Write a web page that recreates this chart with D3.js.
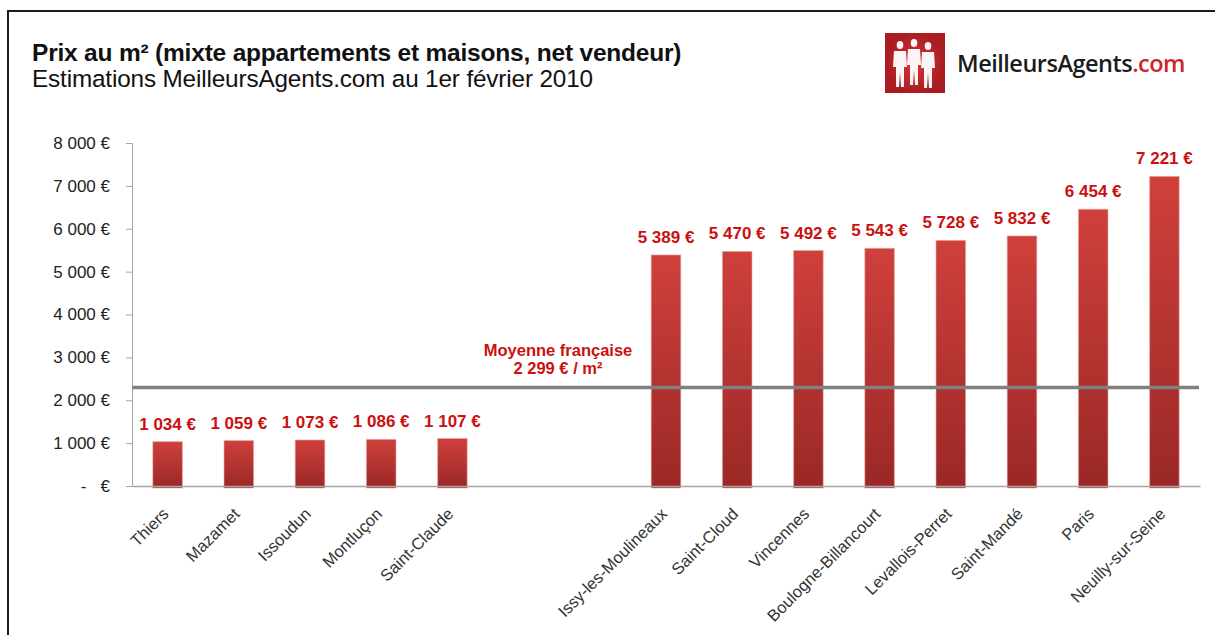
<!DOCTYPE html>
<html>
<head>
<meta charset="utf-8">
<script src="https://cdn.jsdelivr.net/npm/d3@7"></script>
<style>
  html, body { margin: 0; padding: 0; background: #fff; }
  svg { display: block; font-family: "Liberation Sans", Arial, sans-serif; }
</style>
</head>
<body>
<div id="holder"></div>
<script>
// prix au m2 par ville (les deux "" sont l'espace vide entre les deux groupes)
var categories = ["Thiers", "Mazamet", "Issoudun", "Montluçon", "Saint-Claude", "", "",
  "Issy-les-Moulineaux", "Saint-Cloud", "Vincennes", "Boulogne-Billancourt",
  "Levallois-Perret", "Saint-Mandé", "Paris", "Neuilly-sur-Seine"];
var prices = [1034, 1059, 1073, 1086, 1107, null, null,
  5389, 5470, 5492, 5543, 5728, 5832, 6454, 7221];
var average = 2299;
var yTicks = [0, 1000, 2000, 3000, 4000, 5000, 6000, 7000, 8000];
var title = "Prix au m² (mixte appartements et maisons, net vendeur)";
var subtitle = "Estimations MeilleursAgents.com au 1er février 2010";
var avgLabel = ["Moyenne française", "2 299 € / m²"];

var WIDTH = 1215, HEIGHT = 635,
    MARGINS = {top: 143, right: 15, bottom: 149, left: 132};

var fr = d3.formatLocale({decimal: ",", thousands: "\u00a0", grouping: [3], currency: ["", " €"]});
var euro = function(v) { return v === 0 ? "-\u00a0\u00a0\u00a0€" : fr.format(",.0f")(v) + " €"; };

var svg = d3.select("#holder").append("svg")
    .attr("width", WIDTH)
    .attr("height", HEIGHT);

var defs = svg.append("defs");
var grad = defs.append("linearGradient").attr("id", "barGrad")
    .attr("x1", 0).attr("y1", 0).attr("x2", 0).attr("y2", 1);
grad.append("stop").attr("offset", "0%").attr("stop-color", "#cf403c");
grad.append("stop").attr("offset", "100%").attr("stop-color", "#9a2826");
var logoGrad = defs.append("radialGradient").attr("id", "logoGrad");
logoGrad.append("stop").attr("offset", "0%").attr("stop-color", "#d8353a");
logoGrad.append("stop").attr("offset", "100%").attr("stop-color", "#a81c22");
var shadow = defs.append("filter").attr("id", "soft")
    .attr("x", "-5%").attr("y", "-50%").attr("width", "110%").attr("height", "300%");
shadow.append("feGaussianBlur").attr("stdDeviation", 0.6);

// cadre
svg.append("rect")
    .attr("x", 8).attr("y", 11)
    .attr("width", WIDTH + 20).attr("height", HEIGHT + 20)
    .attr("fill", "none")
    .attr("stroke", "#1a1a1a")
    .attr("stroke-width", 2);

// titres
svg.append("text")
    .attr("x", 32).attr("y", 61)
    .attr("font-size", 24.5).attr("font-weight", "bold")
    .attr("letter-spacing", -0.2)
    .attr("fill", "#111")
    .text(title);
svg.append("text")
    .attr("x", 32).attr("y", 87)
    .attr("font-size", 24.3)
    .attr("letter-spacing", -0.15)
    .attr("fill", "#111")
    .text(subtitle);

// logo
var logo = svg.append("g").attr("transform", "translate(885,33)");
logo.append("rect").attr("width", 60).attr("height", 60).attr("fill", "url(#logoGrad)");
var people = [[15, 1], [29, -1], [43, 2]];
people.forEach(function(p) {
  var g = logo.append("g").attr("transform", "translate(" + p[0] + "," + (7 + p[1]) + ")").attr("fill", "#fff").attr("fill-opacity", 0.95);
  g.append("ellipse").attr("cx", 0).attr("cy", 4).attr("rx", 3.3).attr("ry", 4);
  g.append("path").attr("d", "M-6,10 L6,10 L7,26 L4,26 L4,46 L1,46 L0,31 L-1,46 L-4,46 L-4,26 L-7,26 Z");
});
var brand = svg.append("text")
    .attr("x", 957).attr("y", 72)
    .attr("font-family", "'Open Sans', sans-serif")
    .attr("font-size", 23.5).attr("font-weight", 600)
    .attr("letter-spacing", -0.5)
    .attr("fill", "#1c1c1c");
brand.append("tspan").text("MeilleursAgents");
brand.append("tspan").attr("fill", "#d3232b").text(".com");

// echelles
var x = d3.scaleBand()
    .domain(d3.range(categories.length))
    .range([MARGINS.left, WIDTH - MARGINS.right])
    .paddingInner(0.585)
    .paddingOuter(0.2925);
var y = d3.scaleLinear()
    .domain([0, 8000])
    .range([HEIGHT - MARGINS.bottom, MARGINS.top]);

// axe Y
var yAxis = svg.append("g")
    .attr("transform", "translate(" + MARGINS.left + ",0)")
    .call(d3.axisLeft(y).tickValues(yTicks).tickSize(6).tickPadding(16).tickFormat(euro));
yAxis.select(".domain").attr("stroke", "#a6a6a6");
yAxis.selectAll(".tick line").attr("stroke", "#a6a6a6");
yAxis.selectAll(".tick text")
    .attr("font-family", "'Liberation Sans', Arial, sans-serif")
    .attr("font-size", 17).attr("fill", "#222");

// barres
var data = prices.map(function(v, i) { return {i: i, v: v}; }).filter(function(d) { return d.v != null; });
svg.append("g").selectAll("rect").data(data).enter().append("rect")
    .attr("x", function(d) { return x(d.i); })
    .attr("y", function(d) { return y(d.v); })
    .attr("width", x.bandwidth())
    .attr("height", function(d) { return y(0) - y(d.v) + 2; })
    .attr("fill", "url(#barGrad)")
    .attr("stroke", "#e9a09c")
    .attr("stroke-opacity", 0.6)
    .attr("stroke-width", 1);

// axe X
svg.append("g")
    .attr("transform", "translate(0," + y(0) + ")")
    .call(d3.axisBottom(x).tickSize(0).tickFormat(""))
    .select(".domain").attr("stroke", "#a6a6a6").attr("stroke-width", 1.5);

svg.append("g").selectAll("text").data(categories).enter().append("text")
    .attr("transform", function(d, i) { return "translate(" + (x(i) + x.bandwidth() / 2 + 2) + ",515) rotate(-45)"; })
    .attr("text-anchor", "end")
    .attr("font-size", 16.5)
    .attr("fill", "#333")
    .text(function(d) { return d; });

// valeurs
svg.append("g").selectAll("text").data(data).enter().append("text")
    .attr("x", function(d) { return x(d.i) + x.bandwidth() / 2; })
    .attr("y", function(d) { return y(d.v) - 12; })
    .attr("text-anchor", "middle")
    .attr("font-size", 17).attr("font-weight", "bold")
    .attr("fill", "#cc1010")
    .text(function(d) { return euro(d.v); });

// moyenne
svg.append("line")
    .attr("x1", MARGINS.left).attr("x2", WIDTH - MARGINS.right - 1)
    .attr("y1", y(average)).attr("y2", y(average))
    .attr("stroke", "#6e6e6e").attr("stroke-width", 5).attr("stroke-opacity", 0.5)
    .attr("filter", "url(#soft)");
svg.append("line")
    .attr("x1", MARGINS.left).attr("x2", WIDTH - MARGINS.right - 1)
    .attr("y1", y(average)).attr("y2", y(average))
    .attr("stroke", "#808080").attr("stroke-width", 3.5);
svg.append("g").selectAll("text").data(avgLabel).enter().append("text")
    .attr("x", 558)
    .attr("y", function(d, i) { return 356 + i * 18; })
    .attr("text-anchor", "middle")
    .attr("font-size", 16.5).attr("font-weight", "bold")
    .attr("fill", "#cc1010")
    .text(function(d) { return d; });
</script>
</body>
</html>
